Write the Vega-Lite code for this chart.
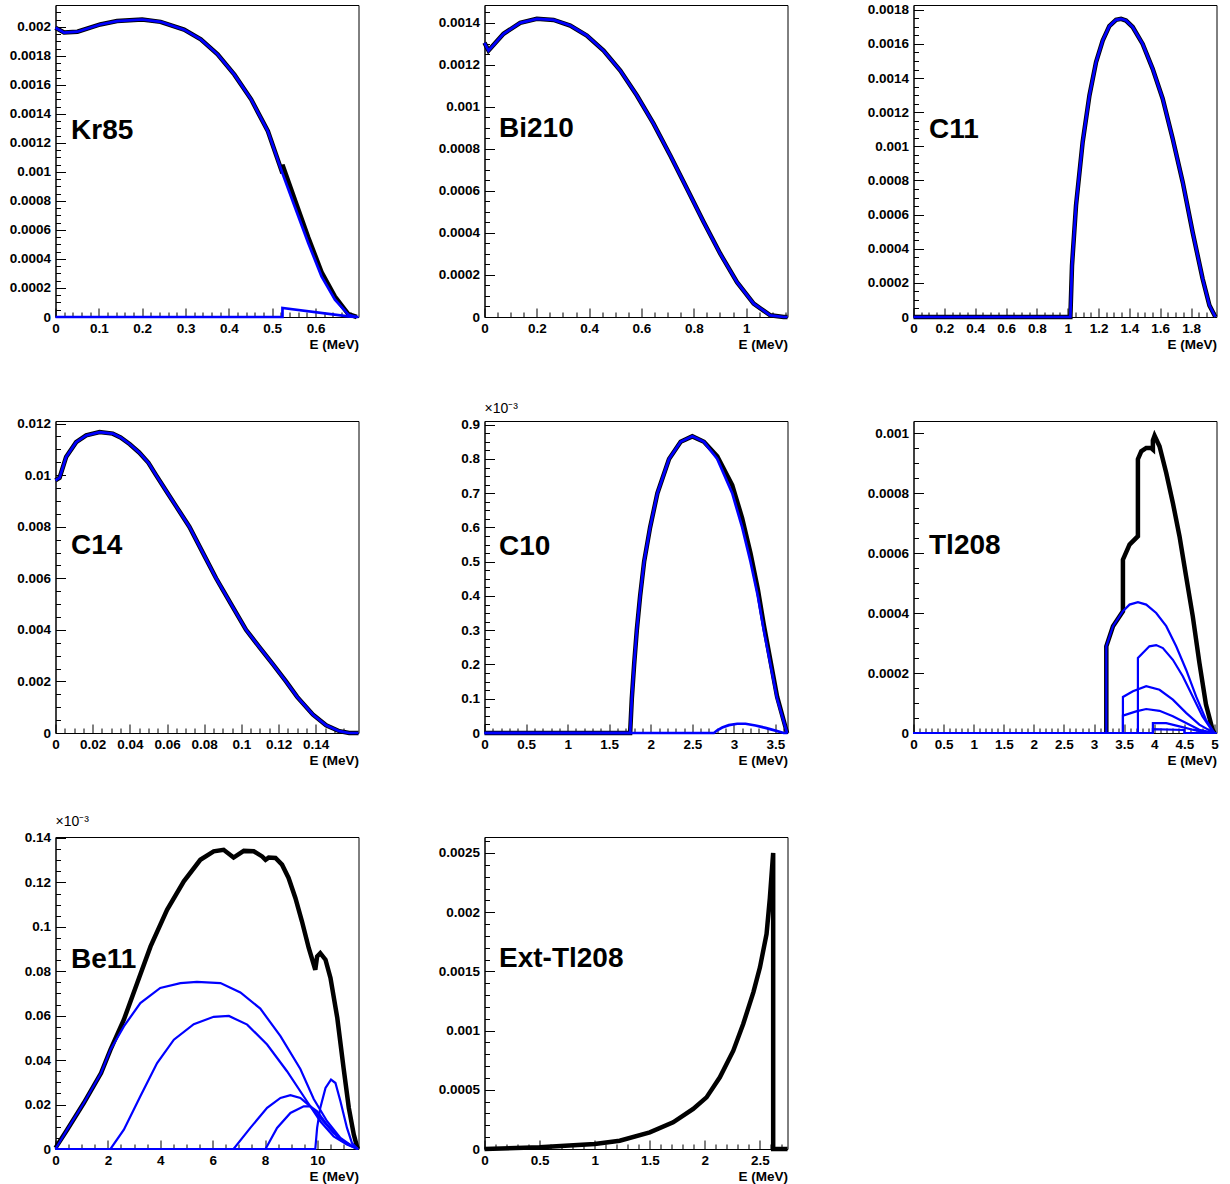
{
"$schema": "https://vega.github.io/schema/vega-lite/v6.json",
"background": "white",
"padding": {"left": 8.5, "top": 2, "right": 5, "bottom": 0},
"bounds": "flush",
"columns": 3,
"spacing": {"row": 104, "column": 126},
"config": {
 "view": {"stroke": "black", "strokeWidth": 1},
 "axis": {"labelFont": "Liberation Sans", "labelFontWeight": "bold", "labelFontSize": 13.5, "labelColor": "black", "titleFont": "Liberation Sans", "titleFontWeight": "bold", "titleFontSize": 13.5, "titleColor": "black", "domainColor": "black", "domainWidth": 1, "tickColor": "black", "tickWidth": 1, "grid": false, "labelOverlap": false, "labelFlush": false, "labelBound": false, "tickCount": 1000}
},
"datasets": {
 "kr85": [
  {"s":"tot","E":0,"v":0.001993},{"s":"tot","E":0.0197,"v":0.00196},{"s":"tot","E":0.0506,"v":0.001966},{"s":"tot","E":0.1032,"v":0.002016},{"s":"tot","E":0.1419,"v":0.002039},{"s":"tot","E":0.2,"v":0.00205},{"s":"tot","E":0.2424,"v":0.002034},{"s":"tot","E":0.2966,"v":0.00198},{"s":"tot","E":0.3352,"v":0.001913},{"s":"tot","E":0.374,"v":0.00181},{"s":"tot","E":0.4127,"v":0.00167},{"s":"tot","E":0.4513,"v":0.0015},{"s":"tot","E":0.49,"v":0.00128},{"s":"tot","E":0.5236,"v":0.00099},{"s":"tot","E":0.5236,"v":0.00105},{"s":"tot","E":0.552,"v":0.00081},{"s":"tot","E":0.583,"v":0.00055},{"s":"tot","E":0.6137,"v":0.00031},{"s":"tot","E":0.6447,"v":0.00014},{"s":"tot","E":0.6756,"v":0.00002},{"s":"tot","E":0.695,"v":0},
  {"s":"b1","E":0,"v":0.001993},{"s":"b1","E":0.0197,"v":0.00196},{"s":"b1","E":0.0506,"v":0.001966},{"s":"b1","E":0.1032,"v":0.002016},{"s":"b1","E":0.1419,"v":0.002039},{"s":"b1","E":0.2,"v":0.00205},{"s":"b1","E":0.2424,"v":0.002034},{"s":"b1","E":0.2966,"v":0.00198},{"s":"b1","E":0.3352,"v":0.001913},{"s":"b1","E":0.374,"v":0.00181},{"s":"b1","E":0.4127,"v":0.00167},{"s":"b1","E":0.4513,"v":0.0015},{"s":"b1","E":0.49,"v":0.00128},{"s":"b1","E":0.5236,"v":0.00099},{"s":"b1","E":0.552,"v":0.00076},{"s":"b1","E":0.583,"v":0.00051},{"s":"b1","E":0.6137,"v":0.00028},{"s":"b1","E":0.6447,"v":0.00012},{"s":"b1","E":0.6756,"v":0.000016},{"s":"b1","E":0.695,"v":0},
  {"s":"b2","E":0,"v":0},{"s":"b2","E":0.5236,"v":0},{"s":"b2","E":0.5236,"v":0.000062},{"s":"b2","E":0.68,"v":0.000002},{"s":"b2","E":0.699,"v":0}
 ],
 "bi210": [
  {"s":"tot","E":0,"v":0.001305},{"s":"tot","E":0.0153,"v":0.001268},{"s":"tot","E":0.024,"v":0.00128},{"s":"tot","E":0.0727,"v":0.001348},{"s":"tot","E":0.1364,"v":0.0014},{"s":"tot","E":0.2,"v":0.001419},{"s":"tot","E":0.264,"v":0.001414},{"s":"tot","E":0.3276,"v":0.001387},{"s":"tot","E":0.391,"v":0.00134},{"s":"tot","E":0.455,"v":0.001268},{"s":"tot","E":0.519,"v":0.001173},{"s":"tot","E":0.5825,"v":0.001054},{"s":"tot","E":0.646,"v":0.00092},{"s":"tot","E":0.71,"v":0.000769},{"s":"tot","E":0.774,"v":0.00061},{"s":"tot","E":0.8375,"v":0.000452},{"s":"tot","E":0.901,"v":0.000301},{"s":"tot","E":0.965,"v":0.000166},{"s":"tot","E":1.0287,"v":0.0000634},{"s":"tot","E":1.0924,"v":0.0000079},{"s":"tot","E":1.143,"v":0},{"s":"tot","E":1.158,"v":0},
  {"s":"b1","E":0,"v":0.001305},{"s":"b1","E":0.0153,"v":0.001268},{"s":"b1","E":0.024,"v":0.00128},{"s":"b1","E":0.0727,"v":0.001348},{"s":"b1","E":0.1364,"v":0.0014},{"s":"b1","E":0.2,"v":0.001419},{"s":"b1","E":0.264,"v":0.001414},{"s":"b1","E":0.3276,"v":0.001387},{"s":"b1","E":0.391,"v":0.00134},{"s":"b1","E":0.455,"v":0.001268},{"s":"b1","E":0.519,"v":0.001173},{"s":"b1","E":0.5825,"v":0.001054},{"s":"b1","E":0.646,"v":0.00092},{"s":"b1","E":0.71,"v":0.000769},{"s":"b1","E":0.774,"v":0.00061},{"s":"b1","E":0.8375,"v":0.000452},{"s":"b1","E":0.901,"v":0.000301},{"s":"b1","E":0.965,"v":0.000166},{"s":"b1","E":1.0287,"v":0.0000634},{"s":"b1","E":1.0924,"v":0.0000079},{"s":"b1","E":1.143,"v":0},{"s":"b1","E":1.158,"v":0}
 ],
 "c11": [
  {"s":"tot","E":0,"v":0},{"s":"tot","E":1.0173,"v":0},{"s":"tot","E":1.028,"v":0.000303},{"s":"tot","E":1.054,"v":0.000654},{"s":"tot","E":1.097,"v":0.001025},{"s":"tot","E":1.141,"v":0.001298},{"s":"tot","E":1.184,"v":0.001494},{"s":"tot","E":1.227,"v":0.00162},{"s":"tot","E":1.27,"v":0.001704},{"s":"tot","E":1.3135,"v":0.001741},{"s":"tot","E":1.346,"v":0.001747},{"s":"tot","E":1.378,"v":0.001737},{"s":"tot","E":1.4216,"v":0.001699},{"s":"tot","E":1.486,"v":0.0016},{"s":"tot","E":1.551,"v":0.001454},{"s":"tot","E":1.616,"v":0.001279},{"s":"tot","E":1.681,"v":0.001044},{"s":"tot","E":1.746,"v":0.00079},{"s":"tot","E":1.81,"v":0.000498},{"s":"tot","E":1.875,"v":0.000224},{"s":"tot","E":1.919,"v":0.0000683},{"s":"tot","E":1.958,"v":0},
  {"s":"b1","E":0,"v":0},{"s":"b1","E":1.0173,"v":0},{"s":"b1","E":1.028,"v":0.000303},{"s":"b1","E":1.054,"v":0.000654},{"s":"b1","E":1.097,"v":0.001025},{"s":"b1","E":1.141,"v":0.001298},{"s":"b1","E":1.184,"v":0.001494},{"s":"b1","E":1.227,"v":0.00162},{"s":"b1","E":1.27,"v":0.001704},{"s":"b1","E":1.3135,"v":0.001741},{"s":"b1","E":1.346,"v":0.001747},{"s":"b1","E":1.378,"v":0.001737},{"s":"b1","E":1.4216,"v":0.001699},{"s":"b1","E":1.486,"v":0.0016},{"s":"b1","E":1.551,"v":0.001454},{"s":"b1","E":1.616,"v":0.001279},{"s":"b1","E":1.681,"v":0.001044},{"s":"b1","E":1.746,"v":0.00079},{"s":"b1","E":1.81,"v":0.000498},{"s":"b1","E":1.875,"v":0.000224},{"s":"b1","E":1.919,"v":0.0000683},{"s":"b1","E":1.958,"v":0}
 ],
 "c14": [
  {"s":"tot","E":0,"v":0.0098},{"s":"tot","E":0.0022,"v":0.0099},{"s":"tot","E":0.0057,"v":0.0107},{"s":"tot","E":0.0111,"v":0.01128},{"s":"tot","E":0.0165,"v":0.01154},{"s":"tot","E":0.0237,"v":0.01167},{"s":"tot","E":0.0308,"v":0.01161},{"s":"tot","E":0.035,"v":0.01146},{"s":"tot","E":0.04,"v":0.0112},{"s":"tot","E":0.045,"v":0.01088},{"s":"tot","E":0.05,"v":0.01048},{"s":"tot","E":0.0541,"v":0.01},{"s":"tot","E":0.06,"v":0.00934},{"s":"tot","E":0.065,"v":0.00878},{"s":"tot","E":0.072,"v":0.008},{"s":"tot","E":0.08,"v":0.00689},{"s":"tot","E":0.0864,"v":0.006},{"s":"tot","E":0.09,"v":0.00555},{"s":"tot","E":0.095,"v":0.00493},{"s":"tot","E":0.1025,"v":0.004},{"s":"tot","E":0.11,"v":0.0033},{"s":"tot","E":0.117,"v":0.00266},{"s":"tot","E":0.124,"v":0.002},{"s":"tot","E":0.13,"v":0.0014},{"s":"tot","E":0.1384,"v":0.00072},{"s":"tot","E":0.1456,"v":0.0003},{"s":"tot","E":0.1527,"v":0.00007},{"s":"tot","E":0.158,"v":0},{"s":"tot","E":0.163,"v":0},
  {"s":"b1","E":0,"v":0.0098},{"s":"b1","E":0.0022,"v":0.0099},{"s":"b1","E":0.0057,"v":0.0107},{"s":"b1","E":0.0111,"v":0.01128},{"s":"b1","E":0.0165,"v":0.01154},{"s":"b1","E":0.0237,"v":0.01167},{"s":"b1","E":0.0308,"v":0.01161},{"s":"b1","E":0.035,"v":0.01146},{"s":"b1","E":0.04,"v":0.0112},{"s":"b1","E":0.045,"v":0.01088},{"s":"b1","E":0.05,"v":0.01048},{"s":"b1","E":0.0541,"v":0.01},{"s":"b1","E":0.06,"v":0.00934},{"s":"b1","E":0.065,"v":0.00878},{"s":"b1","E":0.072,"v":0.008},{"s":"b1","E":0.08,"v":0.00689},{"s":"b1","E":0.0864,"v":0.006},{"s":"b1","E":0.09,"v":0.00555},{"s":"b1","E":0.095,"v":0.00493},{"s":"b1","E":0.1025,"v":0.004},{"s":"b1","E":0.11,"v":0.0033},{"s":"b1","E":0.117,"v":0.00266},{"s":"b1","E":0.124,"v":0.002},{"s":"b1","E":0.13,"v":0.0014},{"s":"b1","E":0.1384,"v":0.00072},{"s":"b1","E":0.1456,"v":0.0003},{"s":"b1","E":0.1527,"v":0.00007},{"s":"b1","E":0.158,"v":0},{"s":"b1","E":0.163,"v":0}
 ],
 "c10": [
  {"s":"tot","E":0,"v":0},{"s":"tot","E":1.752,"v":0},{"s":"tot","E":1.772,"v":0.1},{"s":"tot","E":1.8,"v":0.2},{"s":"tot","E":1.832,"v":0.3},{"s":"tot","E":1.872,"v":0.4},{"s":"tot","E":1.92,"v":0.5},{"s":"tot","E":1.992,"v":0.6},{"s":"tot","E":2.08,"v":0.7},{"s":"tot","E":2.22,"v":0.8},{"s":"tot","E":2.36,"v":0.85},{"s":"tot","E":2.5,"v":0.866},{"s":"tot","E":2.64,"v":0.85},{"s":"tot","E":2.8,"v":0.808},{"s":"tot","E":2.98,"v":0.724},{"s":"tot","E":3.1,"v":0.627},{"s":"tot","E":3.2,"v":0.525},{"s":"tot","E":3.288,"v":0.42},{"s":"tot","E":3.36,"v":0.316},{"s":"tot","E":3.44,"v":0.211},{"s":"tot","E":3.52,"v":0.106},{"s":"tot","E":3.64,"v":0},
  {"s":"b1","E":0,"v":0},{"s":"b1","E":1.752,"v":0},{"s":"b1","E":1.772,"v":0.1},{"s":"b1","E":1.8,"v":0.2},{"s":"b1","E":1.832,"v":0.3},{"s":"b1","E":1.872,"v":0.4},{"s":"b1","E":1.92,"v":0.5},{"s":"b1","E":1.992,"v":0.6},{"s":"b1","E":2.08,"v":0.7},{"s":"b1","E":2.22,"v":0.8},{"s":"b1","E":2.36,"v":0.85},{"s":"b1","E":2.5,"v":0.866},{"s":"b1","E":2.64,"v":0.85},{"s":"b1","E":2.8,"v":0.8},{"s":"b1","E":2.98,"v":0.7},{"s":"b1","E":3.1,"v":0.6},{"s":"b1","E":3.2,"v":0.5},{"s":"b1","E":3.288,"v":0.4},{"s":"b1","E":3.36,"v":0.3},{"s":"b1","E":3.44,"v":0.2},{"s":"b1","E":3.52,"v":0.1},{"s":"b1","E":3.64,"v":0},
  {"s":"b2","E":0,"v":0},{"s":"b2","E":2.76,"v":0},{"s":"b2","E":2.8,"v":0.008},{"s":"b2","E":2.86,"v":0.016},{"s":"b2","E":2.94,"v":0.023},{"s":"b2","E":3.04,"v":0.027},{"s":"b2","E":3.14,"v":0.027},{"s":"b2","E":3.26,"v":0.022},{"s":"b2","E":3.38,"v":0.015},{"s":"b2","E":3.5,"v":0.007},{"s":"b2","E":3.6,"v":0},{"s":"b2","E":3.645,"v":0}
 ],
 "tl208": [
  {"s":"tot","E":3.204,"v":0},{"s":"tot","E":3.204,"v":0.000289},{"s":"tot","E":3.315,"v":0.000356},{"s":"tot","E":3.48,"v":0.000406},{"s":"tot","E":3.48,"v":0.000578},{"s":"tot","E":3.59,"v":0.000628},{"s":"tot","E":3.729,"v":0.000656},{"s":"tot","E":3.729,"v":0.000913},{"s":"tot","E":3.785,"v":0.000939},{"s":"tot","E":3.867,"v":0.00095},{"s":"tot","E":3.95,"v":0.00095},{"s":"tot","E":3.978,"v":0.000945},{"s":"tot","E":3.978,"v":0.000975},{"s":"tot","E":4.006,"v":0.000991},{"s":"tot","E":4.088,"v":0.000956},{"s":"tot","E":4.2,"v":0.000867},{"s":"tot","E":4.31,"v":0.000767},{"s":"tot","E":4.42,"v":0.000656},{"s":"tot","E":4.53,"v":0.000522},{"s":"tot","E":4.64,"v":0.00039},{"s":"tot","E":4.75,"v":0.000235},{"s":"tot","E":4.86,"v":0.000095},{"s":"tot","E":4.97,"v":0.000011},{"s":"tot","E":5.0,"v":0},
  {"s":"b1","E":0,"v":0},{"s":"b1","E":3.204,"v":0},{"s":"b1","E":3.204,"v":0.000289},{"s":"b1","E":3.315,"v":0.000356},{"s":"b1","E":3.48,"v":0.000406},{"s":"b1","E":3.59,"v":0.000428},{"s":"b1","E":3.729,"v":0.000436},{"s":"b1","E":3.867,"v":0.000428},{"s":"b1","E":4.033,"v":0.0004},{"s":"b1","E":4.2,"v":0.000356},{"s":"b1","E":4.365,"v":0.000289},{"s":"b1","E":4.53,"v":0.000211},{"s":"b1","E":4.696,"v":0.000122},{"s":"b1","E":4.86,"v":0.000044},{"s":"b1","E":5.0,"v":0},{"s":"b1","E":5.035,"v":0},
  {"s":"b2","E":0,"v":0},{"s":"b2","E":3.729,"v":0},{"s":"b2","E":3.729,"v":0.00025},{"s":"b2","E":3.81,"v":0.000267},{"s":"b2","E":3.92,"v":0.000289},{"s":"b2","E":4.033,"v":0.000293},{"s":"b2","E":4.144,"v":0.000283},{"s":"b2","E":4.31,"v":0.000244},{"s":"b2","E":4.475,"v":0.000189},{"s":"b2","E":4.64,"v":0.000122},{"s":"b2","E":4.8,"v":0.000056},{"s":"b2","E":4.97,"v":0.000006},{"s":"b2","E":5.0,"v":0},
  {"s":"b3","E":0,"v":0},{"s":"b3","E":3.48,"v":0},{"s":"b3","E":3.48,"v":0.00012},{"s":"b3","E":3.646,"v":0.000139},{"s":"b3","E":3.867,"v":0.000156},{"s":"b3","E":4.088,"v":0.000144},{"s":"b3","E":4.31,"v":0.000111},{"s":"b3","E":4.53,"v":0.000067},{"s":"b3","E":4.75,"v":0.000028},{"s":"b3","E":4.97,"v":0.000003},{"s":"b3","E":5.0,"v":0},
  {"s":"b4","E":0,"v":0},{"s":"b4","E":3.48,"v":0},{"s":"b4","E":3.48,"v":0.000058},{"s":"b4","E":3.7,"v":0.000072},{"s":"b4","E":3.867,"v":0.00008},{"s":"b4","E":4.088,"v":0.000074},{"s":"b4","E":4.31,"v":0.000056},{"s":"b4","E":4.53,"v":0.000033},{"s":"b4","E":4.75,"v":0.000011},{"s":"b4","E":5.0,"v":0},
  {"s":"b5","E":0,"v":0},{"s":"b5","E":3.978,"v":0},{"s":"b5","E":3.978,"v":0.000033},{"s":"b5","E":4.2,"v":0.000033},{"s":"b5","E":4.42,"v":0.000022},{"s":"b5","E":4.64,"v":0.000011},{"s":"b5","E":4.86,"v":0.000002},{"s":"b5","E":5.0,"v":0},
  {"s":"b6","E":0,"v":0},{"s":"b6","E":3.978,"v":0},{"s":"b6","E":3.978,"v":0.000013},{"s":"b6","E":4.5,"v":0.00001},{"s":"b6","E":4.5,"v":0},{"s":"b6","E":5.035,"v":0}
 ],
 "be11": [
  {"s":"tot","E":0,"v":0.0005},{"s":"tot","E":0.445,"v":0.0087},{"s":"tot","E":1.08,"v":0.0207},{"s":"tot","E":1.74,"v":0.0342},{"s":"tot","E":2.1,"v":0.0447},{"s":"tot","E":2.61,"v":0.0582},{"s":"tot","E":3.12,"v":0.0747},{"s":"tot","E":3.63,"v":0.0912},{"s":"tot","E":4.26,"v":0.1077},{"s":"tot","E":4.9,"v":0.1205},{"s":"tot","E":5.53,"v":0.1302},{"s":"tot","E":6.04,"v":0.134},{"s":"tot","E":6.42,"v":0.1347},{"s":"tot","E":6.8,"v":0.1312},{"s":"tot","E":7.19,"v":0.1342},{"s":"tot","E":7.57,"v":0.134},{"s":"tot","E":7.89,"v":0.1317},{"s":"tot","E":8.02,"v":0.1302},{"s":"tot","E":8.14,"v":0.1312},{"s":"tot","E":8.4,"v":0.131},{"s":"tot","E":8.65,"v":0.128},{"s":"tot","E":8.9,"v":0.122},{"s":"tot","E":9.16,"v":0.113},{"s":"tot","E":9.41,"v":0.1025},{"s":"tot","E":9.67,"v":0.0905},{"s":"tot","E":9.92,"v":0.0807},{"s":"tot","E":9.99,"v":0.0867},{"s":"tot","E":10.11,"v":0.0882},{"s":"tot","E":10.31,"v":0.0852},{"s":"tot","E":10.5,"v":0.077},{"s":"tot","E":10.76,"v":0.059},{"s":"tot","E":11.0,"v":0.0365},{"s":"tot","E":11.2,"v":0.0185},{"s":"tot","E":11.39,"v":0.0065},{"s":"tot","E":11.51,"v":0.0012},{"s":"tot","E":11.55,"v":0},
  {"s":"b1","E":0,"v":0},{"s":"b1","E":0.445,"v":0.0087},{"s":"b1","E":1.08,"v":0.0207},{"s":"b1","E":1.74,"v":0.0342},{"s":"b1","E":2.1,"v":0.0447},{"s":"b1","E":2.61,"v":0.0552},{"s":"b1","E":3.24,"v":0.0657},{"s":"b1","E":4.0,"v":0.0725},{"s":"b1","E":4.77,"v":0.0747},{"s":"b1","E":5.4,"v":0.0752},{"s":"b1","E":6.3,"v":0.0747},{"s":"b1","E":7.06,"v":0.0705},{"s":"b1","E":7.82,"v":0.0632},{"s":"b1","E":8.59,"v":0.0508},{"s":"b1","E":9.35,"v":0.036},{"s":"b1","E":9.86,"v":0.0225},{"s":"b1","E":10.37,"v":0.0125},{"s":"b1","E":10.88,"v":0.005},{"s":"b1","E":11.26,"v":0.0018},{"s":"b1","E":11.54,"v":0},{"s":"b1","E":11.57,"v":0},
  {"s":"b2","E":0,"v":0},{"s":"b2","E":2.1,"v":0},{"s":"b2","E":2.61,"v":0.0087},{"s":"b2","E":3.24,"v":0.0237},{"s":"b2","E":3.88,"v":0.0387},{"s":"b2","E":4.52,"v":0.0492},{"s":"b2","E":5.28,"v":0.0562},{"s":"b2","E":6.04,"v":0.0595},{"s":"b2","E":6.62,"v":0.0599},{"s":"b2","E":7.32,"v":0.056},{"s":"b2","E":8.08,"v":0.047},{"s":"b2","E":8.84,"v":0.035},{"s":"b2","E":9.6,"v":0.0215},{"s":"b2","E":10.11,"v":0.0125},{"s":"b2","E":10.62,"v":0.0057},{"s":"b2","E":11.13,"v":0.002},{"s":"b2","E":11.54,"v":0},
  {"s":"b3","E":0,"v":0},{"s":"b3","E":6.8,"v":0},{"s":"b3","E":7.44,"v":0.0095},{"s":"b3","E":8.08,"v":0.0185},{"s":"b3","E":8.59,"v":0.023},{"s":"b3","E":8.97,"v":0.0242},{"s":"b3","E":9.35,"v":0.023},{"s":"b3","E":9.73,"v":0.0192},{"s":"b3","E":10.11,"v":0.014},{"s":"b3","E":10.62,"v":0.0072},{"s":"b3","E":11.13,"v":0.0022},{"s":"b3","E":11.54,"v":0},
  {"s":"b4","E":0,"v":0},{"s":"b4","E":8.02,"v":0},{"s":"b4","E":8.46,"v":0.0095},{"s":"b4","E":8.97,"v":0.0162},{"s":"b4","E":9.48,"v":0.0192},{"s":"b4","E":9.73,"v":0.0192},{"s":"b4","E":9.99,"v":0.017},{"s":"b4","E":10.37,"v":0.011},{"s":"b4","E":10.88,"v":0.0042},{"s":"b4","E":11.54,"v":0},
  {"s":"b5","E":0,"v":0},{"s":"b5","E":9.92,"v":0},{"s":"b5","E":9.99,"v":0.0095},{"s":"b5","E":10.11,"v":0.0185},{"s":"b5","E":10.31,"v":0.0275},{"s":"b5","E":10.52,"v":0.0312},{"s":"b5","E":10.69,"v":0.0297},{"s":"b5","E":10.88,"v":0.0215},{"s":"b5","E":11.13,"v":0.0095},{"s":"b5","E":11.32,"v":0.0027},{"s":"b5","E":11.54,"v":0}
 ],
 "ext": [
  {"s":"tot","E":0,"v":0},{"s":"tot","E":0.5,"v":0.000014},{"s":"tot","E":1.0,"v":0.000042},{"s":"tot","E":1.227,"v":0.00007},{"s":"tot","E":1.5,"v":0.00014},{"s":"tot","E":1.712,"v":0.000225},{"s":"tot","E":1.894,"v":0.000338},{"s":"tot","E":2.015,"v":0.000436},{"s":"tot","E":2.136,"v":0.000605},{"s":"tot","E":2.258,"v":0.00083},{"s":"tot","E":2.348,"v":0.001056},{"s":"tot","E":2.44,"v":0.001323},{"s":"tot","E":2.5,"v":0.001534},{"s":"tot","E":2.56,"v":0.001816},{"s":"tot","E":2.59,"v":0.00212},{"s":"tot","E":2.62,"v":0.0025},{"s":"tot","E":2.62,"v":0},{"s":"tot","E":2.75,"v":0}
 ],
 "names": [{"n":"Kr85"},{"n":"Bi210"},{"n":"C11"},{"n":"C14"},{"n":"C10"},{"n":"Tl208"},{"n":"Be11"},{"n":"Ext-Tl208"}]
},
"concat": [
 {"width": 303, "height": 312, "data": {"name": "kr85"},
  "layer": [
   {"transform": [{"filter": "datum.s=='tot'"}], "mark": {"type": "line", "color": "black", "strokeWidth": 4.5},
    "encoding": {
     "x": {"field": "E", "type": "quantitative", "scale": {"domain": [0, 0.699], "nice": false, "zero": false},
      "axis": {"orient": "bottom", "title": "E (MeV)", "titleAnchor": "end", "titlePadding": 3, "labelPadding": 13, "labelOverlap": false, "tickCount": 1000, "tickSize": -9,
       "values": [0,0.02,0.04,0.06,0.08,0.1,0.12,0.14,0.16,0.18,0.2,0.22,0.24,0.26,0.28,0.3,0.32,0.34,0.36,0.38,0.4,0.42,0.44,0.46,0.48,0.5,0.52,0.54,0.56,0.58,0.6,0.62,0.64,0.66,0.68],
       "labelExpr": "abs(datum.value/0.1-round(datum.value/0.1))<1e-6?format(datum.value,'~g'):''",
       "tickDash": {"condition": {"test": "abs(datum.value/0.1-round(datum.value/0.1))<1e-6", "value": []}, "value": [5, 100]}}},
     "y": {"field": "v", "type": "quantitative", "scale": {"domain": [0, 0.00215], "nice": false, "zero": false},
      "axis": {"orient": "left", "title": null, "labelPadding": 15, "labelOverlap": false, "tickCount": 1000, "tickSize": -10,
       "values": [0,0.00005,0.0001,0.00015,0.0002,0.00025,0.0003,0.00035,0.0004,0.00045,0.0005,0.00055,0.0006,0.00065,0.0007,0.00075,0.0008,0.00085,0.0009,0.00095,0.001,0.00105,0.0011,0.00115,0.0012,0.00125,0.0013,0.00135,0.0014,0.00145,0.0015,0.00155,0.0016,0.00165,0.0017,0.00175,0.0018,0.00185,0.0019,0.00195,0.002,0.00205,0.0021],
       "labelExpr": "abs(datum.value/0.0002-round(datum.value/0.0002))<1e-6?format(datum.value,'~g'):''",
       "tickDash": {"condition": {"test": "abs(datum.value/0.0002-round(datum.value/0.0002))<1e-6", "value": []}, "value": [5, 100]}}},
     "order": {"value": null}}},
   {"transform": [{"filter": "datum.s!='tot'"}], "mark": {"type": "line", "color": "#0000ff", "strokeWidth": 2.7},
    "encoding": {"x": {"field": "E", "type": "quantitative"}, "y": {"field": "v", "type": "quantitative"}, "detail": {"field": "s"}, "order": {"value": null}}},
   {"data": {"name": "names"}, "transform": [{"filter": "datum.n=='Kr85'"}],
    "mark": {"type": "text", "font": "Liberation Sans", "fontWeight": "bold", "fontSize": 28, "align": "left", "baseline": "alphabetic", "color": "black"},
    "encoding": {"x": {"datum": 0.0358, "type": "quantitative"}, "y": {"datum": 0.001227, "type": "quantitative"}, "text": {"field": "n"}}}
  ]},
 {"width": 303, "height": 312, "data": {"name": "bi210"},
  "layer": [
   {"transform": [{"filter": "datum.s=='tot'"}], "mark": {"type": "line", "color": "black", "strokeWidth": 4.5},
    "encoding": {
     "x": {"field": "E", "type": "quantitative", "scale": {"domain": [0, 1.158], "nice": false, "zero": false},
      "axis": {"orient": "bottom", "title": "E (MeV)", "titleAnchor": "end", "titlePadding": 3, "labelPadding": 13, "labelOverlap": false, "tickCount": 1000, "tickSize": -9,
       "values": [0,0.05,0.1,0.15,0.2,0.25,0.3,0.35,0.4,0.45,0.5,0.55,0.6,0.65,0.7,0.75,0.8,0.85,0.9,0.95,1,1.05,1.1,1.15],
       "labelExpr": "abs(datum.value/0.2-round(datum.value/0.2))<1e-6?format(datum.value,'~g'):''",
       "tickDash": {"condition": {"test": "abs(datum.value/0.2-round(datum.value/0.2))<1e-6", "value": []}, "value": [5, 100]}}},
     "y": {"field": "v", "type": "quantitative", "scale": {"domain": [0, 0.001485], "nice": false, "zero": false},
      "axis": {"orient": "left", "title": null, "labelPadding": 15, "labelOverlap": false, "tickCount": 1000, "tickSize": -10,
       "values": [0,0.00005,0.0001,0.00015,0.0002,0.00025,0.0003,0.00035,0.0004,0.00045,0.0005,0.00055,0.0006,0.00065,0.0007,0.00075,0.0008,0.00085,0.0009,0.00095,0.001,0.00105,0.0011,0.00115,0.0012,0.00125,0.0013,0.00135,0.0014,0.00145],
       "labelExpr": "abs(datum.value/0.0002-round(datum.value/0.0002))<1e-6?format(datum.value,'~g'):''",
       "tickDash": {"condition": {"test": "abs(datum.value/0.0002-round(datum.value/0.0002))<1e-6", "value": []}, "value": [5, 100]}}},
     "order": {"value": null}}},
   {"transform": [{"filter": "datum.s!='tot'"}], "mark": {"type": "line", "color": "#0000ff", "strokeWidth": 2.7},
    "encoding": {"x": {"field": "E", "type": "quantitative"}, "y": {"field": "v", "type": "quantitative"}, "detail": {"field": "s"}, "order": {"value": null}}},
   {"data": {"name": "names"}, "transform": [{"filter": "datum.n=='Bi210'"}],
    "mark": {"type": "text", "font": "Liberation Sans", "fontWeight": "bold", "fontSize": 28, "align": "left", "baseline": "alphabetic", "color": "black"},
    "encoding": {"x": {"datum": 0.0554, "type": "quantitative"}, "y": {"datum": 0.000858, "type": "quantitative"}, "text": {"field": "n"}}}
  ]},
 {"width": 303, "height": 312, "data": {"name": "c11"},
  "layer": [
   {"transform": [{"filter": "datum.s=='tot'"}], "mark": {"type": "line", "color": "black", "strokeWidth": 4.5},
    "encoding": {
     "x": {"field": "E", "type": "quantitative", "scale": {"domain": [0, 1.965], "nice": false, "zero": false},
      "axis": {"orient": "bottom", "title": "E (MeV)", "titleAnchor": "end", "titlePadding": 3, "labelPadding": 13, "labelOverlap": false, "tickCount": 1000, "tickSize": -9,
       "values": [0,0.05,0.1,0.15,0.2,0.25,0.3,0.35,0.4,0.45,0.5,0.55,0.6,0.65,0.7,0.75,0.8,0.85,0.9,0.95,1,1.05,1.1,1.15,1.2,1.25,1.3,1.35,1.4,1.45,1.5,1.55,1.6,1.65,1.7,1.75,1.8,1.85,1.9,1.95],
       "labelExpr": "abs(datum.value/0.2-round(datum.value/0.2))<1e-6?format(datum.value,'~g'):''",
       "tickDash": {"condition": {"test": "abs(datum.value/0.2-round(datum.value/0.2))<1e-6", "value": []}, "value": [5, 100]}}},
     "y": {"field": "v", "type": "quantitative", "scale": {"domain": [0, 0.001828], "nice": false, "zero": false},
      "axis": {"orient": "left", "title": null, "labelPadding": 15, "labelOverlap": false, "tickCount": 1000, "tickSize": -10,
       "values": [0,0.00005,0.0001,0.00015,0.0002,0.00025,0.0003,0.00035,0.0004,0.00045,0.0005,0.00055,0.0006,0.00065,0.0007,0.00075,0.0008,0.00085,0.0009,0.00095,0.001,0.00105,0.0011,0.00115,0.0012,0.00125,0.0013,0.00135,0.0014,0.00145,0.0015,0.00155,0.0016,0.00165,0.0017,0.00175,0.0018],
       "labelExpr": "abs(datum.value/0.0002-round(datum.value/0.0002))<1e-6?format(datum.value,'~g'):''",
       "tickDash": {"condition": {"test": "abs(datum.value/0.0002-round(datum.value/0.0002))<1e-6", "value": []}, "value": [5, 100]}}},
     "order": {"value": null}}},
   {"transform": [{"filter": "datum.s!='tot'"}], "mark": {"type": "line", "color": "#0000ff", "strokeWidth": 2.7},
    "encoding": {"x": {"field": "E", "type": "quantitative"}, "y": {"field": "v", "type": "quantitative"}, "detail": {"field": "s"}, "order": {"value": null}}},
   {"data": {"name": "names"}, "transform": [{"filter": "datum.n=='C11'"}],
    "mark": {"type": "text", "font": "Liberation Sans", "fontWeight": "bold", "fontSize": 28, "align": "left", "baseline": "alphabetic", "color": "black"},
    "encoding": {"x": {"datum": 0.1005, "type": "quantitative"}, "y": {"datum": 0.001047, "type": "quantitative"}, "text": {"field": "n"}}}
  ]},
 {"width": 303, "height": 312, "data": {"name": "c14"},
  "layer": [
   {"transform": [{"filter": "datum.s=='tot'"}], "mark": {"type": "line", "color": "black", "strokeWidth": 4.5},
    "encoding": {
     "x": {"field": "E", "type": "quantitative", "scale": {"domain": [0, 0.163], "nice": false, "zero": false},
      "axis": {"orient": "bottom", "title": "E (MeV)", "titleAnchor": "end", "titlePadding": 3, "labelPadding": 13, "labelOverlap": false, "tickCount": 1000, "tickSize": -9,
       "values": [0,0.005,0.01,0.015,0.02,0.025,0.03,0.035,0.04,0.045,0.05,0.055,0.06,0.065,0.07,0.075,0.08,0.085,0.09,0.095,0.1,0.105,0.11,0.115,0.12,0.125,0.13,0.135,0.14,0.145,0.15,0.155],
       "labelExpr": "abs(datum.value/0.02-round(datum.value/0.02))<1e-6?format(datum.value,'~g'):''",
       "tickDash": {"condition": {"test": "abs(datum.value/0.02-round(datum.value/0.02))<1e-6", "value": []}, "value": [5, 100]}}},
     "y": {"field": "v", "type": "quantitative", "scale": {"domain": [0, 0.0121], "nice": false, "zero": false},
      "axis": {"orient": "left", "title": null, "labelPadding": 15, "labelOverlap": false, "tickCount": 1000, "tickSize": -10,
       "values": [0,0.0005,0.001,0.0015,0.002,0.0025,0.003,0.0035,0.004,0.0045,0.005,0.0055,0.006,0.0065,0.007,0.0075,0.008,0.0085,0.009,0.0095,0.01,0.0105,0.011,0.0115,0.012],
       "labelExpr": "abs(datum.value/0.002-round(datum.value/0.002))<1e-6?format(datum.value,'~g'):''",
       "tickDash": {"condition": {"test": "abs(datum.value/0.002-round(datum.value/0.002))<1e-6", "value": []}, "value": [5, 100]}}},
     "order": {"value": null}}},
   {"transform": [{"filter": "datum.s!='tot'"}], "mark": {"type": "line", "color": "#0000ff", "strokeWidth": 2.7},
    "encoding": {"x": {"field": "E", "type": "quantitative"}, "y": {"field": "v", "type": "quantitative"}, "detail": {"field": "s"}, "order": {"value": null}}},
   {"data": {"name": "names"}, "transform": [{"filter": "datum.n=='C14'"}],
    "mark": {"type": "text", "font": "Liberation Sans", "fontWeight": "bold", "fontSize": 28, "align": "left", "baseline": "alphabetic", "color": "black"},
    "encoding": {"x": {"datum": 0.00834, "type": "quantitative"}, "y": {"datum": 0.00694, "type": "quantitative"}, "text": {"field": "n"}}}
  ]},
 {"width": 303, "height": 312, "data": {"name": "c10"},
  "title": {"text": "×10⁻³", "anchor": "start", "frame": "group", "font": "Liberation Sans", "fontSize": 14, "fontWeight": "normal", "color": "black", "offset": 2},
  "layer": [
   {"transform": [{"filter": "datum.s=='tot'"}], "mark": {"type": "line", "color": "black", "strokeWidth": 4.5},
    "encoding": {
     "x": {"field": "E", "type": "quantitative", "scale": {"domain": [0, 3.645], "nice": false, "zero": false},
      "axis": {"orient": "bottom", "title": "E (MeV)", "titleAnchor": "end", "titlePadding": 3, "labelPadding": 13, "labelOverlap": false, "tickCount": 1000, "tickSize": -9,
       "values": [0,0.1,0.2,0.3,0.4,0.5,0.6,0.7,0.8,0.9,1,1.1,1.2,1.3,1.4,1.5,1.6,1.7,1.8,1.9,2,2.1,2.2,2.3,2.4,2.5,2.6,2.7,2.8,2.9,3,3.1,3.2,3.3,3.4,3.5,3.6],
       "labelExpr": "abs(datum.value/0.5-round(datum.value/0.5))<1e-6?format(datum.value,'~g'):''",
       "tickDash": {"condition": {"test": "abs(datum.value/0.5-round(datum.value/0.5))<1e-6", "value": []}, "value": [5, 100]}}},
     "y": {"field": "v", "type": "quantitative", "scale": {"domain": [0, 0.9108], "nice": false, "zero": false},
      "axis": {"orient": "left", "title": null, "labelPadding": 15, "labelOverlap": false, "tickCount": 1000, "tickSize": -10,
       "values": [0,0.025,0.05,0.075,0.1,0.125,0.15,0.175,0.2,0.225,0.25,0.275,0.3,0.325,0.35,0.375,0.4,0.425,0.45,0.475,0.5,0.525,0.55,0.575,0.6,0.625,0.65,0.675,0.7,0.725,0.75,0.775,0.8,0.825,0.85,0.875,0.9],
       "labelExpr": "abs(datum.value/0.1-round(datum.value/0.1))<1e-6?format(datum.value,'~g'):''",
       "tickDash": {"condition": {"test": "abs(datum.value/0.1-round(datum.value/0.1))<1e-6", "value": []}, "value": [5, 100]}}},
     "order": {"value": null}}},
   {"transform": [{"filter": "datum.s!='tot'"}], "mark": {"type": "line", "color": "#0000ff", "strokeWidth": 2.7},
    "encoding": {"x": {"field": "E", "type": "quantitative"}, "y": {"field": "v", "type": "quantitative"}, "detail": {"field": "s"}, "order": {"value": null}}},
   {"data": {"name": "names"}, "transform": [{"filter": "datum.n=='C10'"}],
    "mark": {"type": "text", "font": "Liberation Sans", "fontWeight": "bold", "fontSize": 28, "align": "left", "baseline": "alphabetic", "color": "black"},
    "encoding": {"x": {"datum": 0.174, "type": "quantitative"}, "y": {"datum": 0.52, "type": "quantitative"}, "text": {"field": "n"}}}
  ]},
 {"width": 303, "height": 312, "data": {"name": "tl208"},
  "layer": [
   {"transform": [{"filter": "datum.s=='tot'"}], "mark": {"type": "line", "color": "black", "strokeWidth": 4.5},
    "encoding": {
     "x": {"field": "E", "type": "quantitative", "scale": {"domain": [0, 5.035], "nice": false, "zero": false},
      "axis": {"orient": "bottom", "title": "E (MeV)", "titleAnchor": "end", "titlePadding": 3, "labelPadding": 13, "labelOverlap": false, "tickCount": 1000, "tickSize": -9,
       "values": [0,0.1,0.2,0.3,0.4,0.5,0.6,0.7,0.8,0.9,1,1.1,1.2,1.3,1.4,1.5,1.6,1.7,1.8,1.9,2,2.1,2.2,2.3,2.4,2.5,2.6,2.7,2.8,2.9,3,3.1,3.2,3.3,3.4,3.5,3.6,3.7,3.8,3.9,4,4.1,4.2,4.3,4.4,4.5,4.6,4.7,4.8,4.9,5],
       "labelExpr": "abs(datum.value/0.5-round(datum.value/0.5))<1e-6?format(datum.value,'~g'):''",
       "tickDash": {"condition": {"test": "abs(datum.value/0.5-round(datum.value/0.5))<1e-6", "value": []}, "value": [5, 100]}}},
     "y": {"field": "v", "type": "quantitative", "scale": {"domain": [0, 0.00104], "nice": false, "zero": false},
      "axis": {"orient": "left", "title": null, "labelPadding": 15, "labelOverlap": false, "tickCount": 1000, "tickSize": -10,
       "values": [0,0.00005,0.0001,0.00015,0.0002,0.00025,0.0003,0.00035,0.0004,0.00045,0.0005,0.00055,0.0006,0.00065,0.0007,0.00075,0.0008,0.00085,0.0009,0.00095,0.001],
       "labelExpr": "abs(datum.value/0.0002-round(datum.value/0.0002))<1e-6?format(datum.value,'~g'):''",
       "tickDash": {"condition": {"test": "abs(datum.value/0.0002-round(datum.value/0.0002))<1e-6", "value": []}, "value": [5, 100]}}},
     "order": {"value": null}}},
   {"transform": [{"filter": "datum.s!='tot'"}], "mark": {"type": "line", "color": "#0000ff", "strokeWidth": 2.2},
    "encoding": {"x": {"field": "E", "type": "quantitative"}, "y": {"field": "v", "type": "quantitative"}, "detail": {"field": "s"}, "order": {"value": null}}},
   {"data": {"name": "names"}, "transform": [{"filter": "datum.n=='Tl208'"}],
    "mark": {"type": "text", "font": "Liberation Sans", "fontWeight": "bold", "fontSize": 28, "align": "left", "baseline": "alphabetic", "color": "black"},
    "encoding": {"x": {"datum": 0.2576, "type": "quantitative"}, "y": {"datum": 0.000597, "type": "quantitative"}, "text": {"field": "n"}}}
  ]},
 {"width": 303, "height": 312, "data": {"name": "be11"},
  "title": {"text": "×10⁻³", "anchor": "start", "frame": "group", "font": "Liberation Sans", "fontSize": 14, "fontWeight": "normal", "color": "black", "offset": 2},
  "layer": [
   {"transform": [{"filter": "datum.s=='tot'"}], "mark": {"type": "line", "color": "black", "strokeWidth": 4.5},
    "encoding": {
     "x": {"field": "E", "type": "quantitative", "scale": {"domain": [0, 11.57], "nice": false, "zero": false},
      "axis": {"orient": "bottom", "title": "E (MeV)", "titleAnchor": "end", "titlePadding": 3, "labelPadding": 13, "labelOverlap": false, "tickCount": 1000, "tickSize": -9,
       "values": [0,0.5,1,1.5,2,2.5,3,3.5,4,4.5,5,5.5,6,6.5,7,7.5,8,8.5,9,9.5,10,10.5,11,11.5],
       "labelExpr": "abs(datum.value/2-round(datum.value/2))<1e-6?format(datum.value,'~g'):''",
       "tickDash": {"condition": {"test": "abs(datum.value/2-round(datum.value/2))<1e-6", "value": []}, "value": [5, 100]}}},
     "y": {"field": "v", "type": "quantitative", "scale": {"domain": [0, 0.14045], "nice": false, "zero": false},
      "axis": {"orient": "left", "title": null, "labelPadding": 15, "labelOverlap": false, "tickCount": 1000, "tickSize": -10,
       "values": [0,0.005,0.01,0.015,0.02,0.025,0.03,0.035,0.04,0.045,0.05,0.055,0.06,0.065,0.07,0.075,0.08,0.085,0.09,0.095,0.1,0.105,0.11,0.115,0.12,0.125,0.13,0.135,0.14],
       "labelExpr": "abs(datum.value/0.02-round(datum.value/0.02))<1e-6?format(datum.value,'~g'):''",
       "tickDash": {"condition": {"test": "abs(datum.value/0.02-round(datum.value/0.02))<1e-6", "value": []}, "value": [5, 100]}}},
     "order": {"value": null}}},
   {"transform": [{"filter": "datum.s!='tot'"}], "mark": {"type": "line", "color": "#0000ff", "strokeWidth": 2.2},
    "encoding": {"x": {"field": "E", "type": "quantitative"}, "y": {"field": "v", "type": "quantitative"}, "detail": {"field": "s"}, "order": {"value": null}}},
   {"data": {"name": "names"}, "transform": [{"filter": "datum.n=='Be11'"}],
    "mark": {"type": "text", "font": "Liberation Sans", "fontWeight": "bold", "fontSize": 28, "align": "left", "baseline": "alphabetic", "color": "black"},
    "encoding": {"x": {"datum": 0.592, "type": "quantitative"}, "y": {"datum": 0.0814, "type": "quantitative"}, "text": {"field": "n"}}}
  ]},
 {"width": 303, "height": 312, "data": {"name": "ext"},
  "layer": [
   {"transform": [{"filter": "datum.s=='tot'"}], "mark": {"type": "line", "color": "black", "strokeWidth": 4.5},
    "encoding": {
     "x": {"field": "E", "type": "quantitative", "scale": {"domain": [0, 2.75], "nice": false, "zero": false},
      "axis": {"orient": "bottom", "title": "E (MeV)", "titleAnchor": "end", "titlePadding": 3, "labelPadding": 13, "labelOverlap": false, "tickCount": 1000, "tickSize": -9,
       "values": [0,0.1,0.2,0.3,0.4,0.5,0.6,0.7,0.8,0.9,1,1.1,1.2,1.3,1.4,1.5,1.6,1.7,1.8,1.9,2,2.1,2.2,2.3,2.4,2.5,2.6,2.7],
       "labelExpr": "abs(datum.value/0.5-round(datum.value/0.5))<1e-6?format(datum.value,'~g'):''",
       "tickDash": {"condition": {"test": "abs(datum.value/0.5-round(datum.value/0.5))<1e-6", "value": []}, "value": [5, 100]}}},
     "y": {"field": "v", "type": "quantitative", "scale": {"domain": [0, 0.002635], "nice": false, "zero": false},
      "axis": {"orient": "left", "title": null, "labelPadding": 15, "labelOverlap": false, "tickCount": 1000, "tickSize": -10,
       "values": [0,0.0001,0.0002,0.0003,0.0004,0.0005,0.0006,0.0007,0.0008,0.0009,0.001,0.0011,0.0012,0.0013,0.0014,0.0015,0.0016,0.0017,0.0018,0.0019,0.002,0.0021,0.0022,0.0023,0.0024,0.0025,0.0026],
       "labelExpr": "abs(datum.value/0.0005-round(datum.value/0.0005))<1e-6?format(datum.value,'~g'):''",
       "tickDash": {"condition": {"test": "abs(datum.value/0.0005-round(datum.value/0.0005))<1e-6", "value": []}, "value": [5, 100]}}},
     "order": {"value": null}}},
   {"data": {"name": "names"}, "transform": [{"filter": "datum.n=='Ext-Tl208'"}],
    "mark": {"type": "text", "font": "Liberation Sans", "fontWeight": "bold", "fontSize": 28, "align": "left", "baseline": "alphabetic", "color": "black"},
    "encoding": {"x": {"datum": 0.1316, "type": "quantitative"}, "y": {"datum": 0.001535, "type": "quantitative"}, "text": {"field": "n"}}}
  ]}
]
}
